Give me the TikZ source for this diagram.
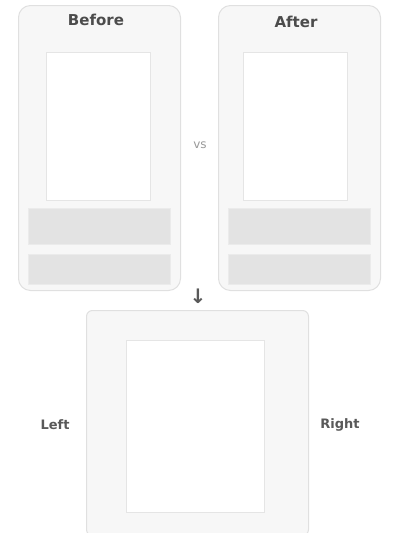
\documentclass[tikz,border=0pt]{standalone}
\usepackage{fontspec}
\setmainfont{DejaVu Sans}
\begin{document}
\begin{tikzpicture}[x=1pt,y=-1pt,
  panel/.style={draw=black!12,fill=black!3,rounded corners=12pt,line width=1pt},
  screen/.style={draw=black!10,fill=white,line width=1pt},
  band/.style={draw=black!8,fill=black!11,line width=0.8pt},
  lbl/.style={text=black!70,font=\bfseries\fontsize{15}{17}\selectfont},
  sidelbl/.style={text=black!65,font=\bfseries\fontsize{13}{15}\selectfont}]
\useasboundingbox (0,0) rectangle (400,533);
% left panel
\node[panel,minimum width=162pt,minimum height=285pt,anchor=north west] (lp) at (18,5) {};
\node[screen,minimum width=104pt,minimum height=148pt,anchor=north west] (ls) at (46,52) {};
\node[band,minimum width=142pt,minimum height=36pt,anchor=north west] (lb1) at (28,208) {};
\node[band,minimum width=142pt,minimum height=30pt,anchor=north west] (lb2) at (28,254) {};
\node[lbl] (lt) at (96,20) {Before};
% right panel
\node[panel,minimum width=162pt,minimum height=285pt,anchor=north west] (rp) at (218,5) {};
\node[screen,minimum width=104pt,minimum height=148pt,anchor=north west] (rs) at (243,52) {};
\node[band,minimum width=142pt,minimum height=36pt,anchor=north west] (rb1) at (228,208) {};
\node[band,minimum width=142pt,minimum height=30pt,anchor=north west] (rb2) at (228,254) {};
\node[lbl] (rt) at (296,22) {After};
% middle marks
\node[text=black!40,font=\fontsize{12}{14}\selectfont] (mid) at (200,145) {vs};
\node[text=black!65,font=\bfseries\fontsize{20}{22}\selectfont] (down) at (198,296) {↓};
% bottom box
\node[panel,rounded corners=6pt,minimum width=222pt,minimum height=225pt,anchor=north west] (bp) at (86,310) {};
\node[screen,minimum width=138pt,minimum height=172pt,anchor=north west] (bs) at (126,340) {};
\node[sidelbl] (ll) at (55,425) {Left};
\node[sidelbl] (rl) at (340,425) {Right};
\end{tikzpicture}
\end{document}
